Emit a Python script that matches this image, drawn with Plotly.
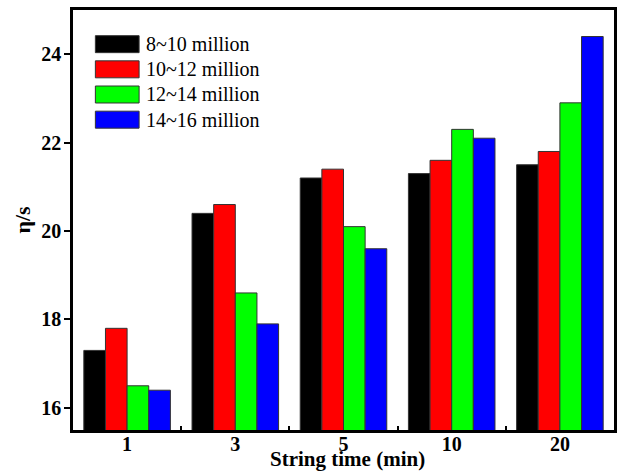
import plotly.graph_objects as go

categories = ["1", "3", "5", "10", "20"]
series_names = ["8~10 million", "10~12 million", "12~14 million", "14~16 million"]
series_colors = ["#000000", "#FF0000", "#00FF00", "#0000FF"]
s_8_10 = [17.3, 20.4, 21.2, 21.3, 21.5]
s_10_12 = [17.8, 20.6, 21.4, 21.6, 21.8]
s_12_14 = [16.5, 18.6, 20.1, 22.3, 22.9]
s_14_16 = [16.4, 17.9, 19.6, 22.1, 24.4]
series_values = [s_8_10, s_10_12, s_12_14, s_14_16]
y_ticks = [16, 18, 20, 22, 24]

FONT = "Liberation Serif, Times New Roman, serif"

fig = go.Figure()
for name, color, vals in zip(series_names, series_colors, series_values):
    fig.add_trace(go.Bar(
        x=categories, y=vals, name=name,
        marker=dict(color=color, line=dict(color="#333333", width=1)),
        showlegend=False,
    ))

W, H = 620, 473
ml, mr, mt, mb = 72.5, 3.3, 9.5, 43
pw, ph = W - ml - mr, H - mt - mb

# custom legend (large swatches)
for i, (name, color) in enumerate(zip(series_names, series_colors)):
    yc = 43.7 + i * 25.2
    x0 = (95 - ml) / pw
    x1 = (139 - ml) / pw
    y0 = 1 - (yc - 8.5 - mt) / ph
    y1 = 1 - (yc + 8.5 - mt) / ph
    fig.add_shape(type="rect", xref="paper", yref="paper", x0=x0, x1=x1, y0=y1, y1=y0,
                  fillcolor=color, line=dict(color="#333333", width=1))
    fig.add_annotation(xref="paper", yref="paper", x=(144 - ml) / pw, y=1 - (yc - mt) / ph,
                       text=name, showarrow=False, xanchor="left", yanchor="middle",
                       font=dict(family=FONT, size=20, color="black"))

# x-axis title
fig.add_annotation(xref="paper", yref="paper", x=(349 - ml) / pw, y=1 - (459 - mt) / ph,
                   text="<b>String time (min)</b>", showarrow=False,
                   xanchor="center", yanchor="middle",
                   font=dict(family=FONT, size=21, color="black"))

fig.update_layout(
    width=W, height=H,
    margin=dict(l=ml, r=mr, t=mt, b=mb, pad=0),
    paper_bgcolor="white", plot_bgcolor="white",
    barmode="group", bargap=0.2, bargroupgap=0,
    font=dict(family=FONT, size=20, color="black"),
)
fig.update_xaxes(
    type="category", range=[-0.5, 4.5],
    showline=True, linecolor="black", linewidth=2.5, mirror=True,
    ticks="inside", tickson="boundaries", ticklen=4, tickwidth=2, tickcolor="black",
    showgrid=False, zeroline=False, ticklabelstandoff=-6,
    tickfont=dict(family=FONT, size=20, color="black", weight="bold"),
)
fig.update_yaxes(
    range=[15.5, 25],
    tickvals=y_ticks,
    showline=True, linecolor="black", linewidth=2.5, mirror=True,
    ticks="outside", ticklen=6, tickwidth=2, tickcolor="black",
    showgrid=False, zeroline=False, ticklabelstandoff=-1,
    tickfont=dict(family=FONT, size=20, color="black", weight="bold"),
    title=dict(text="<b>η/s</b>", standoff=5,
               font=dict(family=FONT, size=22, color="black")),
)

fig.write_html("out.html")
